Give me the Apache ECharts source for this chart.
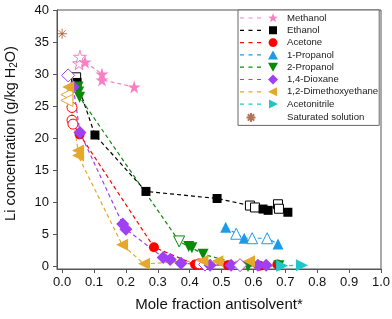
<!DOCTYPE html>
<html><head><meta charset="utf-8">
<script src="https://cdn.jsdelivr.net/npm/echarts@6/dist/echarts.min.js"></script>
<style>html,body{margin:0;padding:0;background:#fff}#c{width:392px;height:319px}</style>
</head><body><div id="c"></div>
<script>
// ---- data (x = mole fraction antisolvent, y = Li concentration g/kg H2O) ----
const xTicks = [0,0.1,0.2,0.3,0.4,0.5,0.6,0.7,0.8,0.9,1.0];
const yTicks = [0,5,10,15,20,25,30,35,40];

const methanolFilled = [[0.072,31.9],[0.125,30.0],[0.125,29.1],[0.226,28.0]];
const methanolOpen   = [[0.053,31.7],[0.056,32.7]];

const ethanolFilled = [[0.047,28.7],[0.103,20.5],[0.263,11.7],[0.486,10.6],[0.63,8.95],[0.646,8.75],[0.708,8.45]];
const ethanolOpen   = [[0.044,29.5],[0.589,9.5],[0.605,9.2],[0.677,9.7],[0.68,9.0]];

const acetoneFilled = [[0.055,20.6],[0.288,3.0],[0.417,0.3],[0.52,0.2],[0.62,0.1],[0.675,0.3]];
const acetoneOpen   = [[0.031,24.8],[0.031,22.8],[0.034,22.2],[0.43,0.4]];

const propanol1Filled = [[0.513,6.1],[0.571,4.4],[0.677,3.5]];
const propanol1Open   = [[0.546,5.1],[0.596,4.4],[0.643,4.4]];

const propanol2Filled = [[0.05,28.0],[0.052,27.2],[0.055,26.4],[0.397,3.1],[0.407,2.9],[0.442,1.9],[0.583,0.0],[0.68,0.1]];
const propanol2Open   = [[0.367,3.9]];

const dioxaneFilled = [[0.035,28.0],[0.056,20.9],[0.19,6.6],[0.2,5.8],[0.317,1.4],[0.339,1.1],[0.373,0.5],[0.464,0.2],[0.53,0.2],[0.614,0.2],[0.64,0.2]];
const dioxaneOpen   = [[0.019,29.8],[0.448,0.3],[0.558,0.2]];

const dmeFilled = [[0.019,28.0],[0.05,18.1],[0.05,17.3],[0.188,3.4],[0.257,0.4],[0.44,0.9],[0.487,0.8],[0.586,0.8]];
const dmeOpen   = [[0.015,26.8],[0.015,25.9]];

const acetonitrileFilled = [[0.69,0.1],[0.752,0.2]];
const acetonitrileOpen   = [];

const saturated = [[0,36.3]];

// ---- styling ----
const STAR = 'path://M50,0 L61,35 L98,35 L68,57 L79,91 L50,70 L21,91 L32,57 L2,35 L39,35 Z';
const AST = 'path://M0,10 L20,10 M10,0 L10,20 M3,3 L17,17 M17,3 L3,17';

// legend icons: three dashes + marker, drawn in a 38x10 box
function poly(pts){ return 'M' + pts.map(p => p[0].toFixed(2)+','+p[1].toFixed(2)).join(' L') + ' Z'; }
const DASHES = 'M0,0 M38,10 ' + poly([[0,4.4],[4,4.4],[4,5.6],[0,5.6]]) + ' ' +
  poly([[8.5,4.4],[12.5,4.4],[12.5,5.6],[8.5,5.6]]) + ' ' + poly([[17,4.4],[21,4.4],[21,5.6],[17,5.6]]);
function starPts(){ const a=[]; for(let i=0;i<10;i++){ const r = i%2? 2.1:5.0; const t = -Math.PI/2 + i*Math.PI/5; a.push([33+r*Math.cos(t), 5.2+r*Math.sin(t)]); } return a; }
function circPts(){ const a=[]; for(let i=0;i<24;i++){ const t=i*Math.PI/12; a.push([33+4.4*Math.cos(t),5+4.4*Math.sin(t)]); } return a; }
const ICON = {
  star: poly(starPts()),
  rect: poly([[29,1],[37,1],[37,9],[29,9]]),
  circle: poly(circPts()),
  up: poly([[33,0.5],[38,9.5],[28,9.5]]),
  down: poly([[28,0.5],[38,0.5],[33,9.5]]),
  diamond: poly([[33,0],[38,5],[33,10],[28,5]]),
  left: poly([[28,5],[37,0.5],[37,9.5]]),
  right: poly([[29,0.5],[38,5],[29,9.5]])
};
const ASTICON = 'path://M0,0 M38,10 M6.5,5 L15.5,5 M11,0.5 L11,9.5 M7.8,1.8 L14.2,8.2 M14.2,1.8 L7.8,8.2';

const defs = [
  {name:'Methanol', f:methanolFilled, o:methanolOpen, color:'#f77fc4', symbol:STAR, size:13, rot:0, icon:'star'},
  {name:'Ethanol', f:ethanolFilled, o:ethanolOpen, color:'#000000', symbol:'rect', size:9, rot:0, icon:'rect'},
  {name:'Acetone', f:acetoneFilled, o:acetoneOpen, color:'#ff0000', symbol:'circle', size:10, rot:0, icon:'circle'},
  {name:'1-Propanol', f:propanol1Filled, o:propanol1Open, color:'#1e9be6', symbol:'triangle', size:11, rot:0, icon:'up'},
  {name:'2-Propanol', f:propanol2Filled, o:propanol2Open, color:'#0a8a0a', symbol:'triangle', size:11, rot:180, icon:'down'},
  {name:'1,4-Dioxane', f:dioxaneFilled, o:dioxaneOpen, color:'#a040f5', symbol:'diamond', size:13, rot:0, icon:'diamond'},
  {name:'1,2-Dimethoxyethane', f:dmeFilled, o:dmeOpen, color:'#e6a82a', symbol:'triangle', size:12, rot:90, icon:'left'},
  {name:'Acetonitrile', f:acetonitrileFilled, o:acetonitrileOpen, color:'#1fc6c9', symbol:'triangle', size:12, rot:-90, icon:'right'}
];

const series = defs.map(d => {
  const items = d.f.map(p => ({value:p, open:false})).concat(d.o.map(p => ({value:p, open:true})));
  items.sort((a,b) => a.value[0]-b.value[0]);
  return {
    name:d.name, type:'line', symbol:d.symbol, symbolSize:d.size, symbolRotate:d.rot,
    showSymbol:true, animation:false,
    lineStyle:{color:d.color, width:1.2, type:[4,3]},
    itemStyle:{color:d.color, borderColor:d.color, borderWidth:0},
    data: items.map(it => it.open
      ? {value:it.value, itemStyle:{color:'#ffffff', borderColor:d.color, borderWidth:1}}
      : {value:it.value})
  };
});
series.push({
  name:'Saturated solution', type:'scatter', symbol:AST, symbolSize:10, animation:false,
  itemStyle:{color:'#c0504d', borderColor:'#a0522d', borderWidth:1},
  data:saturated
});

const legendData = defs.map(d => ({name:d.name, icon:'path://' + DASHES + ' ' + ICON[d.icon], symbolRotate:0}))
  .concat([{name:'Saturated solution', icon:ASTICON, symbolRotate:0}]);

const chart = echarts.init(document.getElementById('c'), null, {renderer:'canvas'});
chart.setOption({
  animation:false,
  backgroundColor:'#fff',
  textStyle:{fontFamily:'Liberation Sans, Arial, sans-serif'},
  grid:{left:57, right:11, top:10, bottom:50, show:true, borderColor:'#555', borderWidth:1,
        containLabel:false, outerBoundsMode:'none'},
  legend:{
    orient:'vertical', left:238, top:10, padding:[3,1,2,1],
    backgroundColor:'#fff', borderColor:'#666', borderWidth:1, borderRadius:0,
    itemWidth:38, itemHeight:10, itemGap:2.3, symbolRotate:0,
    textStyle:{fontSize:9.6, color:'#222', padding:[0,0,0,4]},
    data:legendData
  },
  xAxis:{
    type:'value', min:-0.016, max:1.0,
    name:'Mole fraction antisolvent*', nameLocation:'middle', nameGap:28,
    nameTextStyle:{fontSize:15, color:'#111'},
    axisLine:{show:true, onZero:false, lineStyle:{color:'#555', width:1}},
    axisTick:{show:true, length:4, customValues:xTicks, lineStyle:{color:'#555'}},
    axisLabel:{fontSize:13, color:'#111', margin:7, customValues:xTicks, formatter:v=>v.toFixed(1)},
    splitLine:{show:false}
  },
  yAxis:{
    type:'value', min:-0.4, max:40,
    name:'Li concentration (g/kg H{sub|2}O)', nameLocation:'middle', nameGap:38,
    nameTextStyle:{fontSize:14.5, color:'#111', padding:[0,0,0,12],
                   rich:{sub:{fontSize:10, verticalAlign:'bottom', padding:[7,0,0,0]}}},
    axisLine:{show:true, onZero:false, lineStyle:{color:'#555', width:1}},
    axisTick:{show:true, length:4, customValues:yTicks, lineStyle:{color:'#555'}},
    axisLabel:{fontSize:13, color:'#111', margin:8, customValues:yTicks},
    splitLine:{show:false}
  },
  series:series
});
</script></body></html>
